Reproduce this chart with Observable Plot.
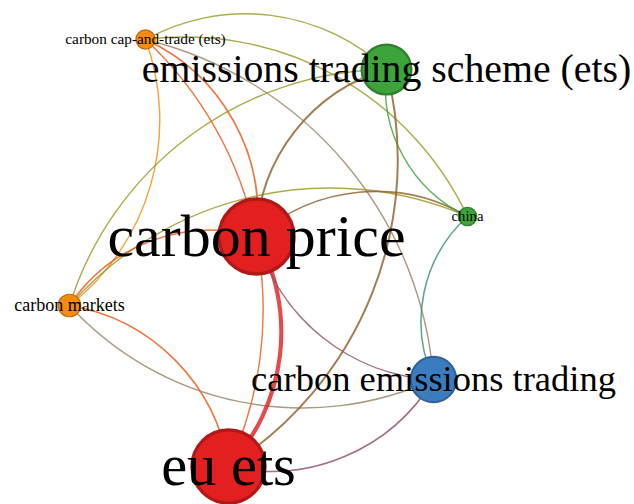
<!DOCTYPE html>
<html>
<head>
<meta charset="utf-8">
<script src="https://cdn.jsdelivr.net/npm/d3@7"></script>
<script src="https://cdn.jsdelivr.net/npm/@observablehq/plot@0.6"></script>
<style>
  html, body { margin: 0; padding: 0; background: #ffffff; overflow: hidden; }
</style>
</head>
<body>
<div id="chart"></div>
<script>
// ---- Data (network map: keyword co-occurrence) ----
const nodeLabels = [
  "carbon cap-and-trade (ets)",
  "emissions trading scheme (ets)",
  "china",
  "carbon price",
  "carbon markets",
  "carbon emissions trading",
  "eu ets"
];
// layout coordinates of each keyword
const nodeX = [145, 386, 467, 256, 69, 433, 228];
const nodeY = [39, 69, 216, 236, 305, 379, 466];
// occurrences
const nodeWeight = [6.5, 44, 6, 100, 9, 37, 95];
// cluster of each keyword
const nodeCluster = [4, 2, 2, 1, 4, 3, 1];

// co-occurrence links (source index, target index, link strength)
const linkSource   = [0, 0, 0, 0, 0, 0, 4, 4, 4, 4, 5, 3, 3, 3, 5, 2, 1, 5, 5];
const linkTarget   = [1, 2, 3, 4, 5, 6, 1, 2, 3, 6, 4, 6, 1, 2, 3, 1, 6, 2, 6];
const linkStrength = [1, 1, 2, 1, 1, 1, 1, 1, 1.5, 1.5, 1, 10, 3, 1.5, 1.5, 1, 3, 1.5, 1.5];

// ---- Styling helpers ----
const clusterIds = [1, 2, 3, 4];
const clusterPalette = ["#e3201f", "#3ca43a", "#3b7cbf", "#f68b0c"];
const clusterColor = d3.scaleOrdinal(clusterIds, clusterPalette);
const radius = d3.scaleSqrt([0, 100], [0, 37.5]);

const nodes = nodeLabels.map((label, i) => ({
  label, x: nodeX[i], y: nodeY[i], weight: nodeWeight[i], cluster: nodeCluster[i]
}));

const links = linkSource.map((s, i) => {
  const t = linkTarget[i];
  return {
    x1: nodeX[s], y1: nodeY[s], x2: nodeX[t], y2: nodeY[t],
    strength: linkStrength[i],
    color: d3.interpolateRgb(clusterColor(nodeCluster[s]), clusterColor(nodeCluster[t]))(0.5)
  };
});

const chart = Plot.plot({
  width: 634,
  height: 504,
  margin: 0,
  x: { domain: [0, 634], range: [0, 634], axis: null },
  y: { domain: [0, 504], range: [0, 504], axis: null },
  r: { type: "sqrt", domain: [0, 100], range: [0, 37.5] },
  color: { type: "identity" },
  style: { background: "#ffffff", overflow: "hidden" },
  marks: [
    Plot.arrow(links, {
      x1: "x1", y1: "y1", x2: "x2", y2: "y2",
      bend: 36,
      headLength: 0,
      stroke: "color",
      strokeWidth: d => 1.1 + d.strength * 0.3,
      strokeOpacity: 0.82
    }),
    Plot.dot(nodes, {
      x: "x", y: "y", r: "weight",
      fill: d => clusterColor(d.cluster),
      stroke: d => d3.color(clusterColor(d.cluster)).darker(0.7).formatHex(),
      strokeWidth: d => Math.max(1.2, radius(d.weight) * 0.09),
      fillOpacity: 1
    }),
    Plot.text(nodes, {
      x: "x", y: "y", text: "label",
      fontSize: d => radius(d.weight) * 1.6,
      fontFamily: "Liberation Serif",
      fill: "#000000"
    })
  ]
});

document.getElementById("chart").append(chart);
</script>
</body>
</html>
